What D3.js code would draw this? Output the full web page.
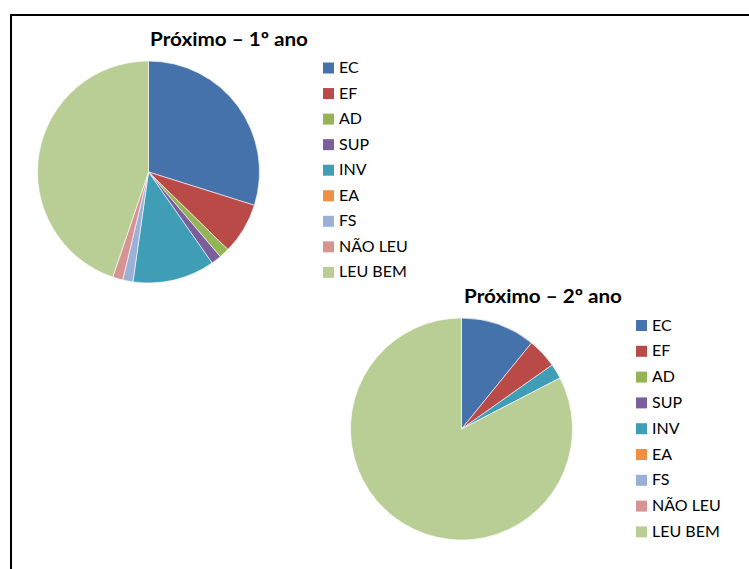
<!DOCTYPE html>
<html>
<head>
<meta charset="utf-8">
<script src="https://cdn.jsdelivr.net/npm/d3@7"></script>
<style>
  html, body { margin: 0; padding: 0; background: #fff; }
  svg { display: block; }
  text { font-family: Lato, "Open Sans", sans-serif; fill: #000; }
</style>
</head>
<body>
<svg id="chart" width="749" height="569"></svg>
<script>
const categories = ["EC", "EF", "AD", "SUP", "INV", "EA", "FS", "NÃO LEU", "LEU BEM"];
const colors = ["#4672AB", "#BA4A47", "#94B455", "#7A5F9C", "#409DB6", "#F08F42", "#9AB0D6", "#D69391", "#B8CE95"];
const titles = ["Próximo – 1º ano", "Próximo – 2º ano"];
const values1 = [20, 5, 1, 1, 8, 0, 1, 1, 30];
const values2 = [5, 2, 0, 0, 1, 0, 0, 0, 38];

const svg = d3.select("#chart");

// outer frame (only top and left edges visible in the picture)
svg.append("rect")
  .attr("x", 11).attr("y", 15)
  .attr("width", 800).attr("height", 600)
  .attr("fill", "none").attr("stroke", "#000").attr("stroke-width", 2);

const color = d3.scaleOrdinal().domain(categories).range(colors);

const panels = [
  { values: values1, title: titles[0], tx: 150, ty: 46, cx: 148.5, cy: 172, r: 111, lx: 323, ly: 67.5, step: 25.55 },
  { values: values2, title: titles[1], tx: 464, ty: 303, cx: 461.5, cy: 429, r: 111, lx: 636, ly: 325, step: 25.8 }
];

const pie = d3.pie().sort(null).value(d => d.v);

panels.forEach(p => {
  const data = categories.map((c, i) => ({ c, v: p.values[i] }));
  const arc = d3.arc().innerRadius(0).outerRadius(p.r);
  const g = svg.append("g").attr("transform", `translate(${p.cx},${p.cy})`);
  g.selectAll("path")
    .data(pie(data).filter(d => d.data.v > 0))
    .join("path")
    .attr("d", arc)
    .attr("fill", d => color(d.data.c))
    .attr("stroke", "#fff").attr("stroke-width", 0.6);

  svg.append("text")
    .attr("x", p.tx).attr("y", p.ty)
    .attr("font-weight", "bold")
    .attr("font-size", 19.5)
    .attr("textLength", 158)
    .attr("lengthAdjust", "spacingAndGlyphs")
    .text(p.title);

  const lg = svg.append("g");
  const items = lg.selectAll("g").data(categories).join("g")
    .attr("transform", (d, i) => `translate(${p.lx},${p.ly + i * p.step})`);
  items.append("rect")
    .attr("x", 0).attr("y", -5).attr("width", 11).attr("height", 11)
    .attr("fill", d => color(d));
  items.append("text")
    .attr("x", 16).attr("y", 5.5)
    .attr("font-size", 16)
    .text(d => d);
});
</script>
</body>
</html>
